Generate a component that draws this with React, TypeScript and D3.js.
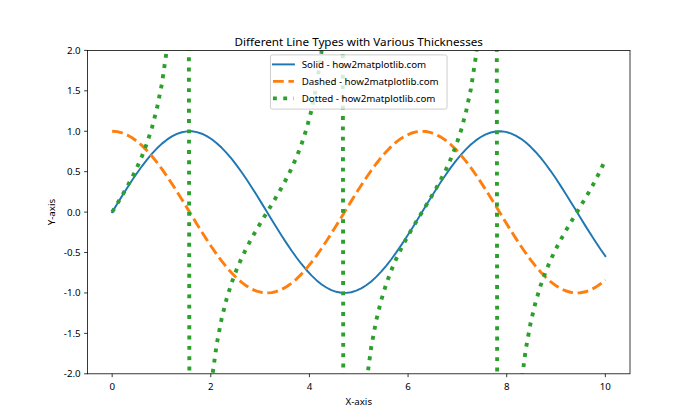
import React from "react";
import * as d3 from "d3";

// x sample positions (0 .. 10, 100 samples)
const xValues = [0, 0.101, 0.202, 0.303, 0.404, 0.505, 0.606, 0.707, 0.808, 0.909, 1.010, 1.111, 1.212, 1.313, 1.414, 1.515, 1.616, 1.717, 1.818, 1.919, 2.020, 2.121, 2.222, 2.323, 2.424, 2.525, 2.626, 2.727, 2.828, 2.929, 3.030, 3.131, 3.232, 3.333, 3.434, 3.535, 3.636, 3.737, 3.838, 3.939, 4.040, 4.141, 4.242, 4.343, 4.444, 4.545, 4.646, 4.747, 4.848, 4.949, 5.051, 5.152, 5.253, 5.354, 5.455, 5.556, 5.657, 5.758, 5.859, 5.960, 6.061, 6.162, 6.263, 6.364, 6.465, 6.566, 6.667, 6.768, 6.869, 6.970, 7.071, 7.172, 7.273, 7.374, 7.475, 7.576, 7.677, 7.778, 7.879, 7.980, 8.081, 8.182, 8.283, 8.384, 8.485, 8.586, 8.687, 8.788, 8.889, 8.990, 9.091, 9.192, 9.293, 9.394, 9.495, 9.596, 9.697, 9.798, 9.899, 10.0];

const solidValues = [0, 0.1008, 0.2007, 0.2984, 0.3931, 0.4838, 0.5696, 0.6496, 0.7230, 0.7889, 0.8469, 0.8962, 0.9364, 0.9670, 0.9878, 0.9986, 0.9990, 0.9893, 0.9696, 0.9399, 0.9007, 0.8523, 0.7952, 0.7300, 0.6574, 0.5781, 0.4928, 0.4026, 0.3082, 0.2107, 0.1111, 0.0103, -0.0906, -0.1906, -0.2886, -0.3837, -0.4748, -0.5612, -0.6418, -0.7158, -0.7826, -0.8414, -0.8916, -0.9327, -0.9643, -0.9861, -0.9978, -0.9994, -0.9908, -0.9720, -0.9434, -0.9051, -0.8576, -0.8014, -0.7370, -0.6651, -0.5864, -0.5017, -0.4120, -0.3180, -0.2207, -0.1213, -0.0206, 0.0804, 0.1805, 0.2787, 0.3742, 0.4658, 0.5526, 0.6338, 0.7086, 0.7761, 0.8358, 0.8869, 0.9290, 0.9615, 0.9843, 0.9971, 0.9997, 0.9921, 0.9744, 0.9467, 0.9095, 0.8629, 0.8075, 0.7439, 0.6727, 0.5947, 0.5106, 0.4213, 0.3277, 0.2308, 0.1315, 0.0308, -0.0701, -0.1703, -0.2688, -0.3646, -0.4566, -0.5440];

const dashedValues = [1, 0.9949, 0.9797, 0.9544, 0.9195, 0.8752, 0.8219, 0.7603, 0.6909, 0.6145, 0.5318, 0.4437, 0.3510, 0.2546, 0.1554, 0.0553, -0.0454, -0.1459, -0.2449, -0.3414, -0.4344, -0.5230, -0.6063, -0.6834, -0.7535, -0.8160, -0.8701, -0.9154, -0.9513, -0.9775, -0.9938, -0.9999, -0.9959, -0.9817, -0.9575, -0.9235, -0.8801, -0.8277, -0.7669, -0.6983, -0.6225, -0.5405, -0.4529, -0.3607, -0.2648, -0.1662, -0.0659, 0.0351, 0.1357, 0.2349, 0.3317, 0.4252, 0.5143, 0.5981, 0.6759, 0.7468, 0.8100, 0.8650, 0.9112, 0.9481, 0.9753, 0.9926, 0.9998, 0.9968, 0.9836, 0.9604, 0.9274, 0.8849, 0.8334, 0.7735, 0.7056, 0.6306, 0.5491, 0.4620, 0.3702, 0.2746, 0.1763, 0.0761, -0.0248, -0.1255, -0.2249, -0.3220, -0.4158, -0.5054, -0.5898, -0.6683, -0.7399, -0.8039, -0.8598, -0.9069, -0.9448, -0.9730, -0.9913, -0.9995, -0.9975, -0.9854, -0.9632, -0.9312, -0.8897, -0.8391];

const dottedValues = [0, 0.1014, 0.2048, 0.3127, 0.4276, 0.5529, 0.6931, 0.8544, 1.0464, 1.2840, 1.5925, 2.0198, 2.6675, 3.7977, 6.3557, 18.04, -22.03, -6.78, -3.96, -2.753, -2.073, -1.630, -1.312, -1.068, -0.8724, -0.7084, -0.5664, -0.4398, -0.3240, -0.2156, -0.1118, -0.0103, 0.0910, 0.1941, 0.3014, 0.4155, 0.5395, 0.6780, 0.8368, 1.0251, 1.2571, 1.5568, 1.9687, 2.586, 3.642, 5.934, 15.15, -28.50, -7.303, -4.138, -2.844, -2.129, -1.668, -1.340, -1.0905, -0.8907, -0.7239, -0.5800, -0.4521, -0.3354, -0.2263, -0.1222, -0.0206, 0.0806, 0.1835, 0.2902, 0.4035, 0.5263, 0.6631, 0.8195, 1.0043, 1.2309, 1.5221, 1.9197, 2.5093, 3.501, 5.584, 13.10, -40.3, -7.906, -4.333, -2.940, -2.187, -1.707, -1.369, -1.113, -0.9093, -0.7397, -0.5939, -0.4645, -0.3469, -0.2372, -0.1326, -0.0309, 0.0703, 0.1729, 0.2791, 0.3916, 0.5133, 0.6484];

const seriesLabels = ["Solid - how2matplotlib.com", "Dashed - how2matplotlib.com", "Dotted - how2matplotlib.com"];
const xTicks = [0, 2, 4, 6, 8, 10];
const yTicks = [-2.0, -1.5, -1.0, -0.5, 0.0, 0.5, 1.0, 1.5, 2.0];

const FONT = "'Noto Sans', sans-serif";

export default function App() {
  const W = 700, H = 420;
  const L = 87.5, R = 630, T = 50.4, B = 373.8;
  const x = d3.scaleLinear().domain([-0.5, 10.5]).range([L, R]);
  const y = d3.scaleLinear().domain([-2, 2]).range([B, T]);

  const mk = (vals: number[]) =>
    d3.line<number>().x((_, i) => x(xValues[i])).y((d) => y(d))(vals) || "";

  const styles = [
    { color: "#1f77b4", width: 1.94, dash: undefined as string | undefined, cap: "square" },
    { color: "#ff7f0e", width: 2.92, dash: "10.8 4.67", cap: "butt" },
    { color: "#2ca02c", width: 3.89, dash: "3.89 6.42", cap: "butt" },
  ];
  const series = [solidValues, dashedValues, dottedValues];

  const legW = 176.6;
  const legX = (L + R) / 2 - legW / 2;
  const legY = 54.9;
  const legH = 54.2;

  return (
    <svg width={W} height={H} style={{ display: "block", margin: "-8px" }} fontFamily={FONT}>
      <rect x={0} y={0} width={W} height={H} fill="#ffffff" />
      <defs>
        <clipPath id="plotclip">
          <rect x={L} y={T} width={R - L} height={B - T} />
        </clipPath>
      </defs>
      <g clipPath="url(#plotclip)">
        {series.map((vals, k) => (
          <path
            key={k}
            d={mk(vals)}
            fill="none"
            stroke={styles[k].color}
            strokeWidth={styles[k].width}
            strokeDasharray={styles[k].dash}
            strokeLinecap={styles[k].cap as any}
            strokeLinejoin="round"
          />
        ))}
      </g>
      {/* spines */}
      <rect x={L} y={T} width={R - L} height={B - T} fill="none" stroke="#000" strokeWidth={0.78} />
      {/* x ticks */}
      {xTicks.map((t) => (
        <g key={"x" + t}>
          <line x1={x(t)} x2={x(t)} y1={B} y2={B + 3.4} stroke="#000" strokeWidth={0.78} />
          <text x={x(t)} y={B + 16.2} fontSize={9.72} textAnchor="middle" fill="#000">
            {String(t)}
          </text>
        </g>
      ))}
      {/* y ticks */}
      {yTicks.map((t) => (
        <g key={"y" + t}>
          <line x1={L - 3.4} x2={L} y1={y(t)} y2={y(t)} stroke="#000" strokeWidth={0.78} />
          <text x={L - 6.8} y={y(t)} dy="0.35em" fontSize={9.72} textAnchor="end" fill="#000">
            {t.toFixed(1)}
          </text>
        </g>
      ))}
      {/* axis labels */}
      <text x={(L + R) / 2} y={405} fontSize={9.72} textAnchor="middle" fill="#000">X-axis</text>
      <text transform={`translate(55,${(T + B) / 2}) rotate(-90)`} fontSize={9.72} textAnchor="middle" fill="#000">Y-axis</text>
      {/* title */}
      <text x={(L + R) / 2} y={45.5} fontSize={11.67} textAnchor="middle" fill="#000">
        Different Line Types with Various Thicknesses
      </text>
      {/* legend */}
      <rect x={legX} y={legY} width={legW} height={legH} rx={2} ry={2} fill="#ffffff" fillOpacity={0.8} stroke="#cccccc" strokeWidth={0.97} />
      {seriesLabels.map((lab, k) => {
        const cy = 64.4 + k * 17;
        return (
          <g key={lab}>
            <line
              x1={legX + 2.5}
              x2={legX + 23.5}
              y1={cy}
              y2={cy}
              stroke={styles[k].color}
              strokeWidth={styles[k].width}
              strokeDasharray={styles[k].dash}
              strokeLinecap={styles[k].cap as any}
            />
            <text x={legX + 31.3} y={cy} dy="0.35em" fontSize={9.72} fill="#000">
              {lab}
            </text>
          </g>
        );
      })}
    </svg>
  );
}
